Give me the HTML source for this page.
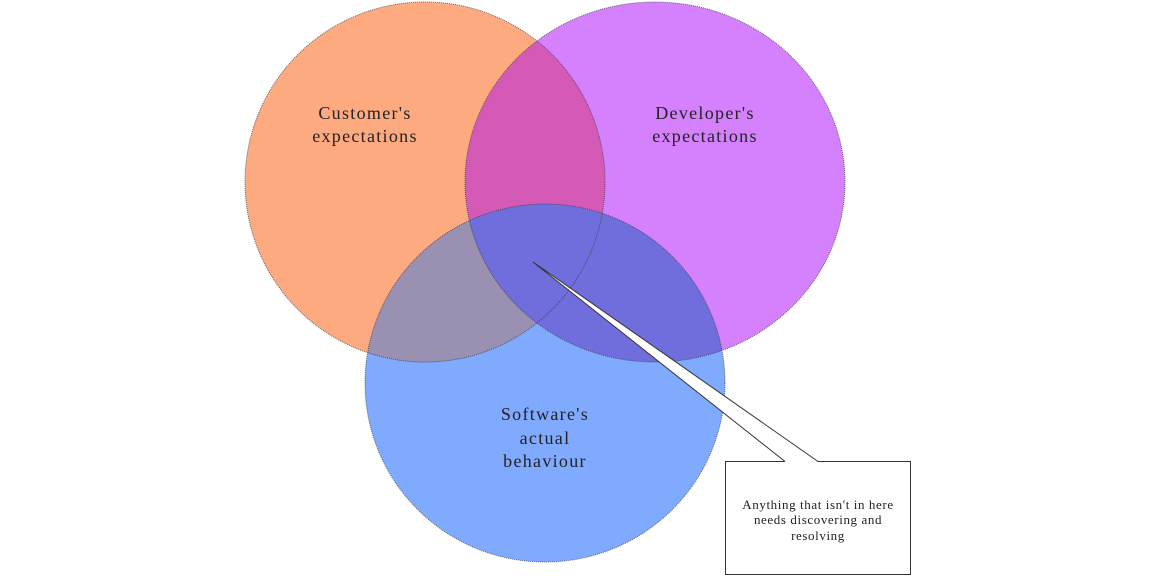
<!DOCTYPE html>
<html><head><style>html,body{margin:0;padding:0;background:#fff;width:1158px;height:579px;overflow:hidden}</style></head>
<body>
<svg width="1158" height="579" xmlns="http://www.w3.org/2000/svg" style="display:block">
<defs>
<clipPath id="cO"><ellipse cx="425" cy="182" rx="180" ry="180"/></clipPath>
<clipPath id="cP"><ellipse cx="655" cy="182" rx="190" ry="180"/></clipPath>
<clipPath id="cB"><ellipse cx="545" cy="383" rx="180" ry="179"/></clipPath>
</defs>
<ellipse cx="425" cy="182" rx="180" ry="180" fill="#fdaa80"/>
<ellipse cx="655" cy="182" rx="190" ry="180" fill="#d580fd"/>
<ellipse cx="425" cy="182" rx="180" ry="180" fill="#d55ab8" clip-path="url(#cP)"/>
<ellipse cx="545" cy="383" rx="180" ry="179" fill="#80aafd"/>
<g clip-path="url(#cB)">
<ellipse cx="425" cy="182" rx="180" ry="180" fill="#9a90b2"/>
<ellipse cx="655" cy="182" rx="190" ry="180" fill="#706edd"/>
</g>
<g fill="none" stroke="#333" stroke-width="1" stroke-dasharray="1 1" opacity="0.7">
<ellipse cx="425" cy="182" rx="180" ry="180"/>
<ellipse cx="655" cy="182" rx="190" ry="180"/>
<ellipse cx="545" cy="383" rx="180" ry="179"/>
</g>
<rect x="725.5" y="461.5" width="185" height="113" fill="#fff" stroke="#333"/>
<polygon points="533,262 785,462 818,462" fill="#fff"/>
<polyline points="785,461.5 533,262 818,461.5" fill="none" stroke="#333"/>
<g font-family="'Liberation Serif', serif" font-size="18" letter-spacing="1.3" fill="#222" text-anchor="middle">
<text x="365" y="119">Customer's</text><text x="365" y="142">expectations</text>
<text x="705" y="119">Developer's</text><text x="705" y="142">expectations</text>
<text x="545" y="420">Software's</text><text x="545" y="444">actual</text><text x="545" y="467">behaviour</text>
</g>
<g font-family="'Liberation Serif', serif" font-size="13" letter-spacing="0.6" fill="#222" text-anchor="middle">
<text x="818" y="509">Anything that isn't in here</text>
<text x="818" y="524">needs discovering and</text>
<text x="818" y="540">resolving</text>
</g>
</svg>
</body></html>
